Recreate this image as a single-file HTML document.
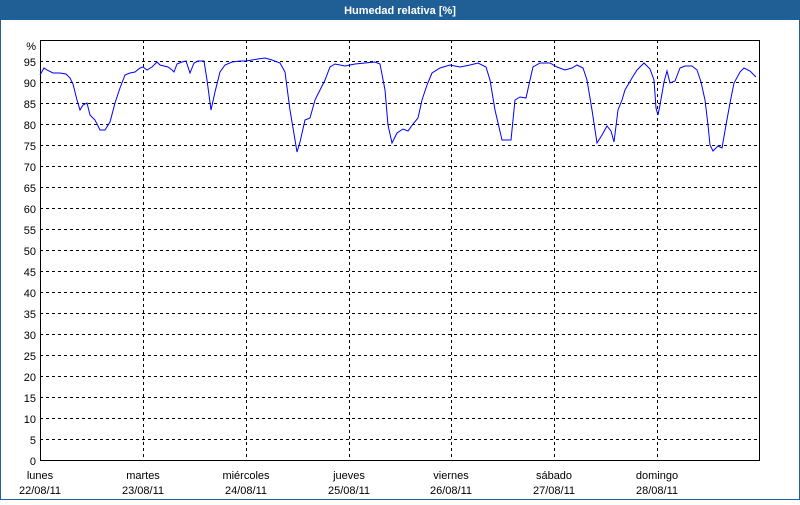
<!DOCTYPE html>
<html><head><meta charset="utf-8"><style>
html,body{margin:0;padding:0;background:#fff}
body{width:800px;height:500px;overflow:hidden;font-family:"Liberation Sans",sans-serif}
</style></head><body>
<svg width="800" height="500" viewBox="0 0 800 500" xmlns="http://www.w3.org/2000/svg" font-family="Liberation Sans, sans-serif" font-size="11">
<rect x="0" y="0" width="800" height="500" fill="#fff"/>
<rect x="0" y="0" width="800" height="20" fill="#1f5f96"/>
<rect x="0.5" y="19.5" width="799" height="480" fill="none" stroke="#1f5f96" stroke-width="1"/>
<text x="400" y="14" text-anchor="middle" fill="#fff" font-weight="bold">Humedad relativa [%]</text>
<g stroke="#000" stroke-width="1" stroke-dasharray="3,3" fill="none">
<path d="M40 61.5H760M40 82.5H760M40 103.5H760M40 124.5H760M40 145.5H760M40 166.5H760M40 187.5H760M40 208.5H760M40 229.5H760M40 250.5H760M40 271.5H760M40 292.5H760M40 313.5H760M40 334.5H760M40 355.5H760M40 376.5H760M40 397.5H760M40 418.5H760M40 439.5H760"/>
<path d="M143.5 40V461M246.5 40V461M349.5 40V461M451.5 40V461M554.5 40V461M657.5 40V461"/>
</g>
<rect x="40.5" y="40.5" width="719" height="420" fill="none" stroke="#000" stroke-width="1"/>
<g text-anchor="end" fill="#000">
<text x="36" y="50">%</text>
<text x="36" y="66">95</text><text x="36" y="87">90</text><text x="36" y="108">85</text><text x="36" y="129">80</text><text x="36" y="150">75</text><text x="36" y="171">70</text><text x="36" y="192">65</text><text x="36" y="213">60</text><text x="36" y="234">55</text><text x="36" y="255">50</text><text x="36" y="276">45</text><text x="36" y="297">40</text><text x="36" y="318">35</text><text x="36" y="339">30</text><text x="36" y="360">25</text><text x="36" y="381">20</text><text x="36" y="402">15</text><text x="36" y="423">10</text><text x="36" y="444">5</text><text x="36" y="465">0</text>
</g>
<g text-anchor="middle" fill="#000">
<text x="40" y="479">lunes</text><text x="40" y="494">22/08/11</text>
<text x="143" y="479">martes</text><text x="143" y="494">23/08/11</text>
<text x="246" y="479">miércoles</text><text x="246" y="494">24/08/11</text>
<text x="349" y="479">jueves</text><text x="349" y="494">25/08/11</text>
<text x="451" y="479">viernes</text><text x="451" y="494">26/08/11</text>
<text x="554" y="479">sábado</text><text x="554" y="494">27/08/11</text>
<text x="657" y="479">domingo</text><text x="657" y="494">28/08/11</text>
</g>
<polyline fill="none" stroke="#0000ff" stroke-width="1" points="40,75 44,68 47,70 53,73 60,73 66,74 70,78 73,84 77,100 80,110 83,105 87,103 90,115 95,120 100,130 105,130 110,122 115,103 120,88 125,75 130,73 135,72 140,68 143,67 147,70 152,67 157,62 160,65 168,67 172,70 174,72 177,64 182,62 186,61 190,73 194,63 198,61 204,61 207,80 211,110 215,92 220,72 225,65 232,62 240,61 246,61 252,60 258,59 265,58 272,60 280,63 285,72 290,110 295,140 297,152 300,142 305,120 310,118 315,100 320,90 325,80 330,67 335,64 345,66 355,64 365,63 375,62 380,64 385,90 388,125 392,143 397,133 403,129 408,131 413,124 418,118 422,100 427,85 432,73 440,68 450,65 460,67 470,65 478,63 486,67 490,80 495,110 502,140 511,140 515,100 520,97 526,98 530,80 533,67 540,63 550,63 557,67 565,70 572,68 577,65 583,68 587,80 592,110 597,143 602,135 607,126 611,131 614,142 618,110 622,100 625,90 632,78 637,70 642,65 644,63 650,69 654,80 656,108 658,115 660,105 664,82 667,71 670,83 675,81 680,68 685,66 692,66 697,70 701,82 705,100 708,125 710,145 713,151 718,146 722,148 726,125 730,103 734,83 740,72 744,68 750,71 756,77"/>
</svg>
</body></html>
